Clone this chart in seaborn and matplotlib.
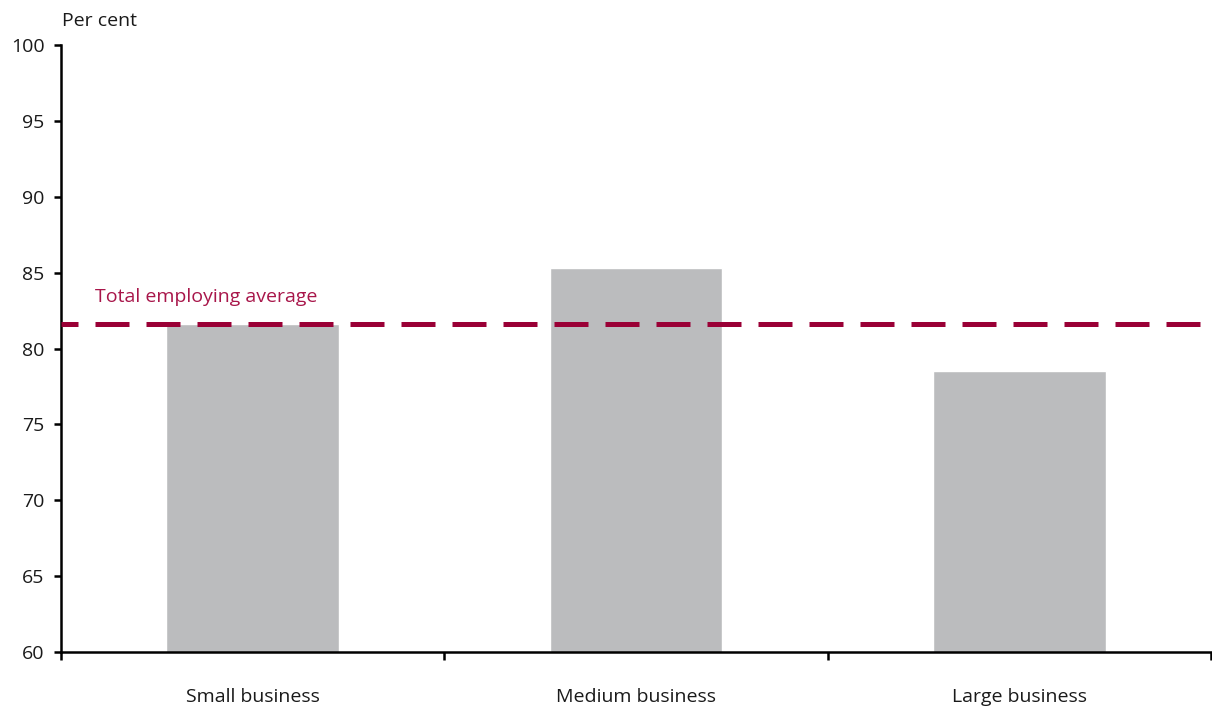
import matplotlib
matplotlib.use("Agg")
import matplotlib.pyplot as plt
import seaborn as sns
import pandas as pd

categories = ["Small business", "Medium business", "Large business"]
values = [81.6, 85.3, 78.5]
average = 81.6
average_label = "Total employing average"
y_label = "Per cent"
y_ticks = [60, 65, 70, 75, 80, 85, 90, 95, 100]

sns.set_theme(style="white")
plt.rcParams["font.family"] = ["Open Sans", "DejaVu Sans"]

df = pd.DataFrame({"category": categories, "value": values})

fig = plt.figure(figsize=(12.12, 7.07), dpi=100)
ax = fig.add_axes([61 / 1212, 1 - 652 / 707, 1150 / 1212, 607 / 707])

sns.barplot(data=df, x="category", y="value", color="#BBBCBE", saturation=1,
            width=0.45, ax=ax, zorder=2)

ax.set_ylim(60, 100)
ax.set_xlim(-0.5, 2.5)
ax.set_yticks(y_ticks)
ax.set_yticklabels([str(t) for t in y_ticks], fontsize=14, color="#1a1a1a")
ax.set_xticks(range(len(categories)))
ax.set_xticklabels(categories, fontsize=14, color="#1a1a1a")
ax.set_xticks([-0.5, 0.5, 1.5, 2.5], minor=True)
ax.tick_params(axis="x", which="major", length=0, pad=26, bottom=False)
ax.tick_params(axis="x", which="minor", length=6, width=1.8, direction="out",
               color="black", bottom=True)
ax.tick_params(axis="y", length=5, width=1.8, direction="out", color="black",
               pad=7, left=True)
ax.set_xlabel("")
ax.set_ylabel("")

for side in ["top", "right"]:
    ax.spines[side].set_visible(False)
for side in ["left", "bottom"]:
    ax.spines[side].set_color("black")
    ax.spines[side].set_linewidth(1.8)
    ax.spines[side].set_zorder(3)

line = ax.axhline(average, color="#9A0036", linewidth=3.6, zorder=4)
line.set_linestyle((3.4, (6.8, 3.4)))

ax.text(-0.4125, average + 1.2, average_label, color="#A8164A", fontsize=14,
        ha="left", va="bottom")
fig.text(62 / 1212, 1 - 21 / 707, y_label, fontsize=14, color="#1a1a1a",
         ha="left", va="center")

fig.savefig("out.png", dpi=100)
